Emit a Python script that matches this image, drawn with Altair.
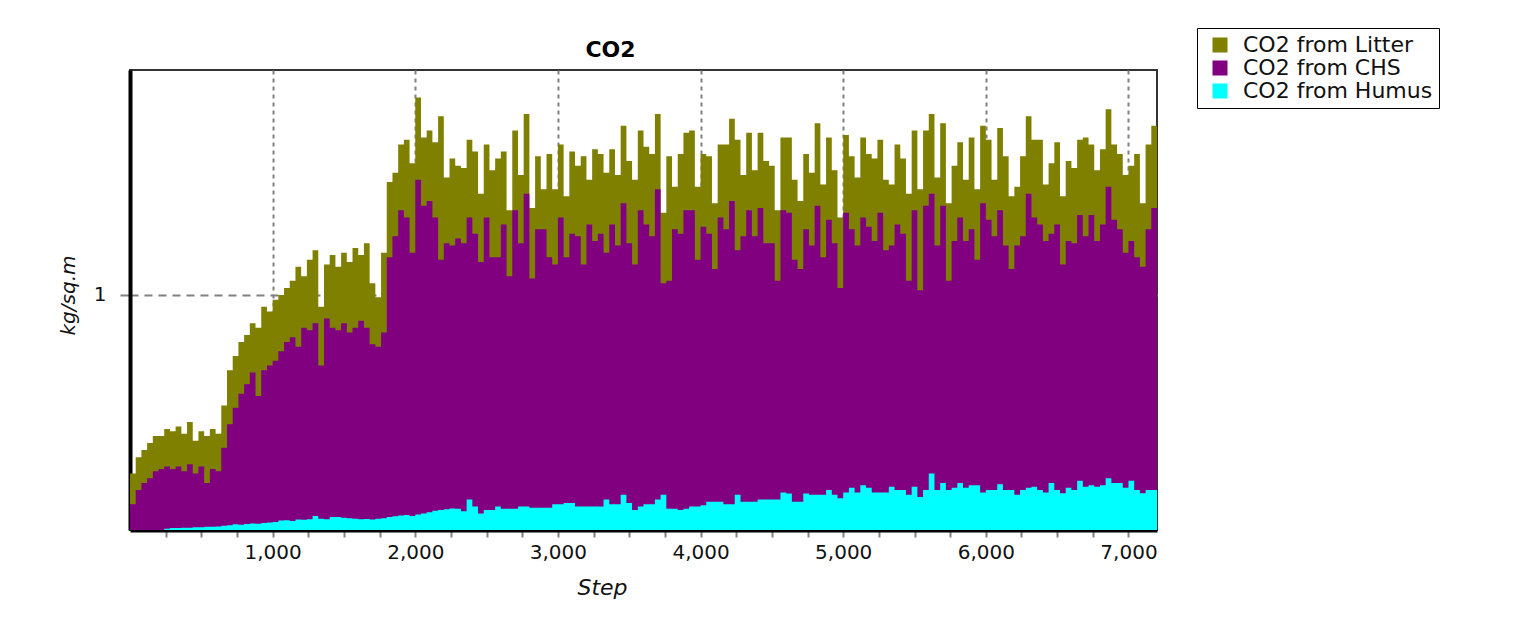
import altair as alt
import pandas as pd

# x grid of the simulation output (one reading every 40 steps)
steps = list(range(0, 7201, 40))

# visible top of each coloured band (kg/sq.m)
litter_top = [
    0.24, 0.31, 0.34, 0.37, 0.40, 0.40,
    0.43, 0.42, 0.44, 0.41, 0.46, 0.38, 0.42, 0.40, 0.43, 0.41,
    0.53, 0.68, 0.74, 0.80, 0.83, 0.88, 0.86, 0.95, 0.93, 0.98,
    1.00, 1.03, 1.06, 1.12, 1.08, 1.15, 1.19, 0.95, 1.13, 1.17,
    1.12, 1.18, 1.14, 1.20, 1.17, 1.22, 1.05, 0.99, 1.18,
    1.48, 1.52, 1.64, 1.66, 1.56, 1.84,
    1.67, 1.70, 1.65, 1.76, 1.50, 1.58, 1.55, 1.54, 1.66, 1.61,
    1.43, 1.64, 1.53, 1.58, 1.61, 1.36, 1.70, 1.51, 1.77, 1.37,
    1.59, 1.45, 1.60, 1.45, 1.64, 1.42, 1.61, 1.55, 1.59, 1.49,
    1.62, 1.60, 1.52, 1.62, 1.51, 1.72, 1.57, 1.49, 1.70, 1.63,
    1.60, 1.77, 1.35, 1.59, 1.46, 1.60, 1.69, 1.70, 1.46, 1.60,
    1.59, 1.39, 1.64, 1.64, 1.75, 1.66, 1.51, 1.69, 1.53, 1.69,
    1.57, 1.55, 1.36, 1.67, 1.67, 1.49, 1.40, 1.60,
    1.52, 1.73, 1.47, 1.67, 1.53, 1.33, 1.68, 1.59, 1.50, 1.67,
    1.60, 1.58, 1.66, 1.49, 1.47, 1.64, 1.58, 1.43, 1.70, 1.45,
    1.70, 1.77, 1.50, 1.73, 1.39, 1.55, 1.65, 1.49, 1.67, 1.45,
    1.72, 1.66, 1.49, 1.71, 1.59, 1.42, 1.46, 1.59, 1.76, 1.66,
    1.66, 1.47, 1.56, 1.65, 1.42, 1.57, 1.54, 1.66, 1.67, 1.64,
    1.53, 1.62, 1.79, 1.64, 1.60, 1.51, 1.55, 1.60, 1.39, 1.64, 1.72, 1.59,
]

chs_top = [
    0.11, 0.17, 0.20, 0.22, 0.25, 0.26,
    0.27, 0.26, 0.27, 0.25, 0.28, 0.24, 0.27, 0.20, 0.26, 0.25,
    0.35, 0.45, 0.52, 0.58, 0.62, 0.67, 0.57, 0.68, 0.70, 0.72,
    0.76, 0.80, 0.82, 0.78, 0.86, 0.85, 0.88, 0.70, 0.90, 0.86,
    0.85, 0.88, 0.84, 0.86, 0.89, 0.86, 0.79, 0.78, 0.84,
    1.16, 1.25, 1.36, 1.33, 1.18, 1.49,
    1.38, 1.40, 1.33, 1.15, 1.22, 1.21, 1.24, 1.22, 1.33, 1.26,
    1.14, 1.33, 1.16, 1.16, 1.30, 1.08, 1.36, 1.22, 1.43, 1.07,
    1.28, 1.28, 1.16, 1.13, 1.33, 1.16, 1.26, 1.25, 1.13, 1.30,
    1.23, 1.26, 1.18, 1.30, 1.21, 1.39, 1.22, 1.13, 1.36, 1.30,
    1.25, 1.45, 1.05, 1.06, 1.28, 1.26, 1.36, 1.36, 1.15, 1.29,
    1.26, 1.11, 1.33, 1.28, 1.40, 1.19, 1.25, 1.36, 1.25, 1.37,
    1.22, 1.22, 1.06, 1.36, 1.35, 1.15, 1.11, 1.28,
    1.21, 1.38, 1.16, 1.32, 1.22, 1.03, 1.35, 1.28, 1.21, 1.33,
    1.29, 1.23, 1.35, 1.19, 1.21, 1.30, 1.26, 1.06, 1.36, 1.02,
    1.38, 1.43, 1.21, 1.38, 1.06, 1.23, 1.33, 1.23, 1.28, 1.15,
    1.39, 1.32, 1.25, 1.36, 1.21, 1.11, 1.21, 1.25, 1.43, 1.33,
    1.30, 1.23, 1.26, 1.30, 1.13, 1.23, 1.22, 1.34, 1.25, 1.34,
    1.23, 1.30, 1.46, 1.32, 1.28, 1.18, 1.23, 1.16, 1.12, 1.28, 1.37, 1.26,
]

humus_top = [
    0.0, 0.0, 0.0, 0.0, 0.0, 0.0,
    0.005, 0.008, 0.008, 0.010, 0.010, 0.012, 0.012, 0.014, 0.014, 0.015,
    0.018, 0.020, 0.024, 0.022, 0.026, 0.028, 0.027, 0.030, 0.032, 0.034,
    0.040, 0.042, 0.038, 0.045, 0.044, 0.046, 0.060, 0.048, 0.046, 0.055,
    0.055, 0.052, 0.050, 0.048, 0.046, 0.047, 0.045, 0.048, 0.050,
    0.055, 0.058, 0.062, 0.064, 0.060, 0.066,
    0.070, 0.075, 0.082, 0.085, 0.088, 0.092, 0.090, 0.080, 0.130, 0.100,
    0.070, 0.085, 0.085, 0.100, 0.090, 0.090, 0.090, 0.100, 0.100, 0.095,
    0.095, 0.095, 0.095, 0.110, 0.110, 0.115, 0.115, 0.100, 0.100, 0.100,
    0.100, 0.100, 0.130, 0.110, 0.110, 0.150, 0.115, 0.085, 0.100, 0.110,
    0.110, 0.130, 0.150, 0.090, 0.090, 0.085, 0.090, 0.100, 0.100, 0.105,
    0.120, 0.120, 0.120, 0.110, 0.110, 0.150, 0.120, 0.120, 0.120, 0.130,
    0.130, 0.130, 0.130, 0.160, 0.155, 0.120, 0.120, 0.155,
    0.150, 0.150, 0.150, 0.170, 0.150, 0.135, 0.160, 0.180, 0.160, 0.190,
    0.180, 0.160, 0.160, 0.160, 0.184, 0.170, 0.170, 0.150, 0.184, 0.140,
    0.170, 0.240, 0.170, 0.200, 0.170, 0.180, 0.200, 0.180, 0.190, 0.190,
    0.160, 0.170, 0.170, 0.195, 0.170, 0.170, 0.150, 0.170, 0.180, 0.184,
    0.170, 0.160, 0.200, 0.170, 0.156, 0.180, 0.170, 0.210, 0.184, 0.190,
    0.184, 0.190, 0.220, 0.200, 0.200, 0.180, 0.210, 0.170, 0.156, 0.170, 0.170, 0.170,
]

series_names = ["CO2 from Litter", "CO2 from CHS", "CO2 from Humus"]
series_colors = ["#808000", "#800080", "#00FFFF"]
x_tick_values = list(range(250, 7001, 250))
y_tick_values = [1]

rows = []
for name, vals in zip(series_names, [litter_top, chs_top, humus_top]):
    for s, v in zip(steps, vals):
        rows.append({"Step": s, "value": v, "series": name})
df = pd.DataFrame(rows)

x_enc = alt.X(
    "Step:Q",
    scale=alt.Scale(domain=[0, 7200], nice=False, zero=False),
    axis=alt.Axis(
        values=x_tick_values,
        labelExpr="datum.value % 1000 === 0 ? format(datum.value, ',') : ''",
        labelOverlap=False,
        labelFlush=False,
        grid=True,
        gridColor="#808080",
        gridDash=[4, 4],
        gridWidth=2,
        gridOpacity={"condition": {"test": "datum.value % 1000 === 0", "value": 1}, "value": 0},
        domainColor="black",
        domainWidth=4,
        tickColor="#808080",
        tickWidth=2,
        tickSize=7,
        labelFontSize=20,
        labelColor="#111111",
        labelPadding=5,
        title="Step",
        titleFontSize=22,
        titleFontStyle="italic",
        titleFontWeight="normal",
        titleColor="#111111",
        titleX=472,
        titleY=57,
        titleBaseline="middle",
        titleAlign="center",
    ),
)

y_enc = alt.Y(
    "value:Q",
    stack=None,
    scale=alt.Scale(domain=[0, 1.957], nice=False),
    axis=alt.Axis(
        values=y_tick_values,
        format="d",
        grid=True,
        gridColor="#808080",
        gridDash=[8, 6],
        gridWidth=2,
        domainColor="black",
        domainWidth=4,
        tickColor="#808080",
        tickWidth=2,
        tickSize=10,
        labelFontSize=20,
        labelColor="#111111",
        labelPadding=14,
        title="kg/sq.m",
        titleFontSize=20,
        titleFontStyle="italic",
        titleFontWeight="normal",
        titleColor="#111111",
        titleX=-62,
        titleY=225,
        titleAngle=270,
        titleBaseline="middle",
        titleAlign="center",
    ),
)

color_enc = alt.Color(
    "series:N",
    scale=alt.Scale(domain=series_names, range=series_colors),
    legend=alt.Legend(
        title=None,
        orient="none",
        legendX=1067,
        legendY=-42,
        strokeColor="black",
        fillColor="white",
        padding=6,
        symbolType="square",
        symbolSize=225,
        symbolStrokeWidth=0,
        symbolOffset=6,
        labelFontSize=22,
        labelLimit=400,
        labelColor="#111111",
        labelOffset=12,
        rowPadding=1,
    ),
)

base = alt.Chart(df).mark_area(interpolate="step-after", clip=True).encode(
    x=x_enc, y=y_enc, color=color_enc
)
layers = [base.transform_filter(alt.datum.series == n) for n in series_names]

chart = (
    alt.layer(*layers)
    .properties(
        width=1027,
        height=460,
        title=alt.TitleParams(
            "CO2", fontSize=22, fontWeight="bold", color="black", dx=-33, dy=46, offset=12
        ),
        autosize=alt.AutoSizeParams(type="none"),
        padding={"left": 122, "top": 62, "right": 354, "bottom": 82},
        background="white",
    )
    .configure(font="DejaVu Sans")
    .configure_view(stroke="#333333", strokeWidth=2)
)

chart.save("out.html", embed_options={"renderer": "svg", "actions": False})
